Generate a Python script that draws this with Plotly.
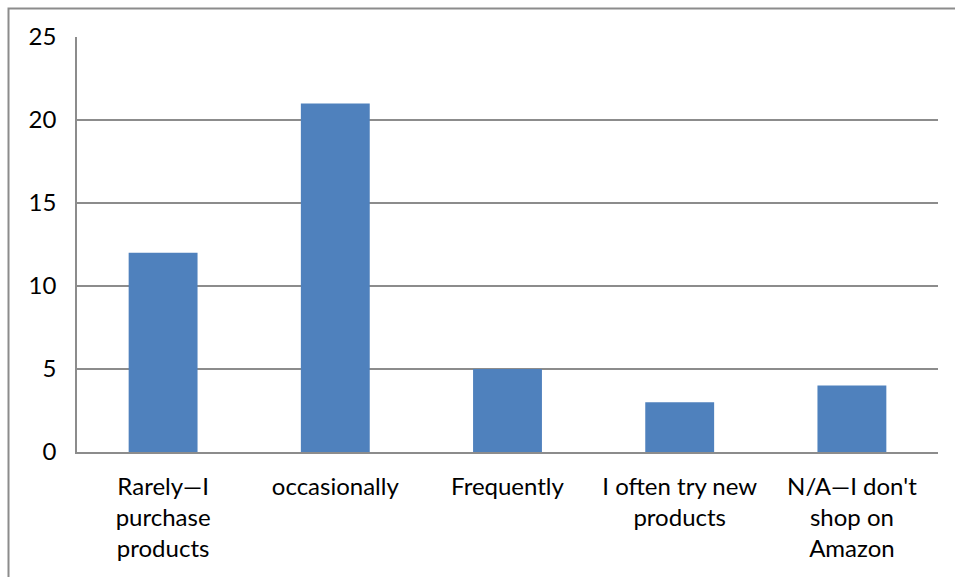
import plotly.graph_objects as go

categories = ["Rarely—I purchase products", "occasionally", "Frequently",
              "I often try new products", "N/A—I don't shop on Amazon"]
tick_labels = ["Rarely—I<br>purchase<br>products", "occasionally", "Frequently",
               "I often try new<br>products", "N/A—I don't<br>shop on<br>Amazon"]
values = [12, 21, 5, 3, 4]
y_ticks = [0, 5, 10, 15, 20, 25]

W, H = 955, 577
L, R, T, B = 77, 17, 37, 125
pw, ph = W - L - R, H - T - B

def px_to_paper_x(px):
    return (px - L) / pw

def px_to_paper_y(py):
    return (H - B - py) / ph

fig = go.Figure(go.Bar(
    x=categories, y=values, marker_color="#4F81BD", marker_line_width=0,
    width=0.4,
))

grid = "#8C8C8C"
fig.update_layout(
    width=W, height=H,
    margin=dict(l=L, r=R, t=T, b=B),
    paper_bgcolor="white", plot_bgcolor="white",
    font=dict(family="Lato, Open Sans, sans-serif", size=24, color="black"),
    showlegend=False,
    bargap=0.6,
    xaxis=dict(
        tickmode="array", tickvals=categories, ticktext=tick_labels,
        showgrid=False, showline=True, linecolor=grid, linewidth=1.5,
        ticks="", ticklabelstandoff=12,
    ),
    yaxis=dict(
        range=[0, 25], tickvals=y_ticks, ticktext=[str(v) for v in y_ticks],
        showgrid=True, gridcolor=grid, gridwidth=1.5,
        showline=True, linecolor=grid, linewidth=1.5,
        zeroline=False, ticks="", ticklabelstandoff=14,
    ),
    shapes=[dict(
        type="path", xref="paper", yref="paper",
        path=f"M {px_to_paper_x(8.5)} {px_to_paper_y(600)} L {px_to_paper_x(8.5)} {px_to_paper_y(8.5)} L {px_to_paper_x(980)} {px_to_paper_y(8.5)}",
        line=dict(color="#8C8C8C", width=2),
    )],
)

fig.write_html("out.html")
